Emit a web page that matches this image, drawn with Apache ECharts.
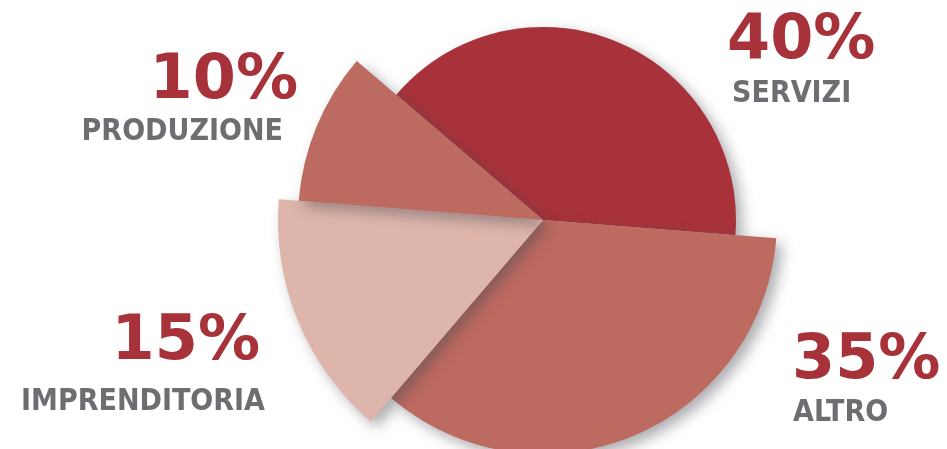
<!DOCTYPE html>
<html>
<head>
<meta charset="utf-8">
<script src="https://cdn.jsdelivr.net/npm/echarts@6/dist/echarts.min.js"></script>
<style>
html,body{margin:0;padding:0;background:#fff;}
#chart{width:947px;height:449px;}
</style>
</head>
<body>
<div id="chart"></div>
<script>
// ---- data ----
const categories = ['SERVIZI', 'ALTRO', 'IMPRENDITORIA', 'PRODUZIONE'];
const values = [40, 35, 15, 10];

// ---- styles / layout ----
const sliceColors = ['#A8323A', '#BD6A60', '#DEB5AB', '#BD6A60'];
const sliceRadius = [193, 234, 265, 245];
const drawOrder = [0, 1, 2, 3];
const center = [543, 220];
const valueColor = '#A8323A';
const nameColor = '#6D6E72';
// label anchors: x / y(middle) of value text, x / y(middle) of name text, alignment
const labelLayout = [
  { vx: 727, vy: 42, nx: 732, ny: 94, align: 'left' },
  { vx: 792, vy: 362, nx: 793, ny: 413, align: 'left' },
  { vx: 260, vy: 343, nx: 265, ny: 402, align: 'right' },
  { vx: 298, vy: 82, nx: 283, ny: 132, align: 'right' }
];

const chart = echarts.init(document.getElementById('chart'), null, { renderer: 'canvas' });

const series = drawOrder.map(function (idx) {
  return {
    type: 'pie',
    center: center,
    radius: [0, sliceRadius[idx]],
    startAngle: 139.5,
    clockwise: true,
    silent: true,
    animation: false,
    avoidLabelOverlap: false,
    label: { show: false },
    labelLine: { show: false },
    emphasis: { disabled: true },
    z: 2 + idx,
    data: categories.map(function (name, i) {
      const visible = i === idx;
      return {
        name: name,
        value: values[i],
        itemStyle: visible ? {
          color: sliceColors[i],
          shadowColor: 'rgba(70,72,80,0.45)',
          shadowBlur: 14,
          shadowOffsetX: 6,
          shadowOffsetY: 6
        } : { color: 'rgba(0,0,0,0)', shadowColor: 'rgba(0,0,0,0)' }
      };
    })
  };
});

const graphics = [];
categories.forEach(function (name, i) {
  const L = labelLayout[i];
  graphics.push({
    type: 'text', x: L.vx, y: L.vy, z: 100, silent: true,
    style: {
      text: values[i] + '%',
      font: 'bold 62px "DejaVu Sans"',
      fill: valueColor,
      align: L.align,
      verticalAlign: 'middle'
    }
  });
  graphics.push({
    type: 'text', x: L.nx, y: L.ny, z: 100, silent: true,
    style: {
      text: name,
      font: 'bold 30px "DejaVu Sans Condensed"',
      fill: nameColor,
      align: L.align,
      verticalAlign: 'middle'
    }
  });
});

chart.setOption({
  backgroundColor: '#ffffff',
  animation: false,
  series: series,
  graphic: graphics
});
</script>
</body>
</html>
